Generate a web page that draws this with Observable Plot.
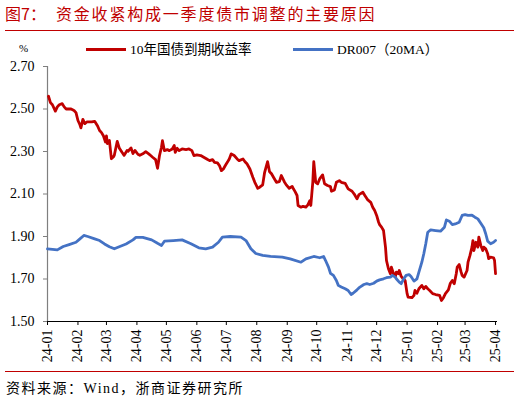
<!DOCTYPE html>
<html><head><meta charset="utf-8">
<script src="https://cdn.jsdelivr.net/npm/d3@7"></script>
<script src="https://cdn.jsdelivr.net/npm/@observablehq/plot@0.6"></script>
<style>
body{margin:0;background:#fff;}
#wrap{position:relative;width:520px;height:402px;overflow:hidden;font-family:"Liberation Serif","Noto Sans CJK SC",serif;color:#000;}
.abs{position:absolute;white-space:nowrap;}
</style></head><body><div id="wrap"></div>
<script>
const title = "资金收紧构成一季度债市调整的主要原因";
const figLabel = "图7：";
const seriesNames = ["10年国债到期收益率", "DR007（20MA）"];
const unitLabel = "%";
const sourceText = "资料来源：Wind，浙商证券研究所";
const yTicks = [1.5, 1.7, 1.9, 2.1, 2.3, 2.5, 2.7];
const xTickLabels = ["24-01","24-02","24-03","24-04","24-05","24-06","24-07","24-08","24-09","24-10","24-11","24-12","25-01","25-02","25-03","25-04"];

const redDates = ["2024-01-02","2024-01-04","2024-01-06","2024-01-09","2024-01-11","2024-01-13","2024-01-16","2024-01-18","2024-01-20","2024-01-22","2024-01-25","2024-01-28","2024-01-30","2024-02-01","2024-02-03","2024-02-04","2024-02-06","2024-02-08","2024-02-10","2024-02-15","2024-02-18","2024-02-21","2024-02-23","2024-02-25","2024-02-27","2024-02-29","2024-03-01","2024-03-02","2024-03-04","2024-03-06","2024-03-08","2024-03-09","2024-03-12","2024-03-14","2024-03-17","2024-03-19","2024-03-22","2024-03-23","2024-03-26","2024-03-28","2024-03-30","2024-04-02","2024-04-04","2024-04-07","2024-04-10","2024-04-13","2024-04-15","2024-04-17","2024-04-20","2024-04-22","2024-04-24","2024-04-26","2024-04-27","2024-04-29","2024-05-02","2024-05-04","2024-05-07","2024-05-09","2024-05-10","2024-05-12","2024-05-14","2024-05-17","2024-05-21","2024-05-24","2024-05-27","2024-05-29","2024-06-01","2024-06-05","2024-06-08","2024-06-12","2024-06-14","2024-06-17","2024-06-19","2024-06-22","2024-06-24","2024-06-26","2024-06-28","2024-06-30","2024-07-02","2024-07-04","2024-07-06","2024-07-09","2024-07-12","2024-07-14","2024-07-18","2024-07-20","2024-07-22","2024-07-25","2024-07-28","2024-07-30","2024-08-02","2024-08-04","2024-08-07","2024-08-09","2024-08-12","2024-08-14","2024-08-16","2024-08-18","2024-08-21","2024-08-24","2024-08-26","2024-08-29","2024-08-31","2024-09-03","2024-09-06","2024-09-07","2024-09-09","2024-09-11","2024-09-12","2024-09-15","2024-09-17","2024-09-20","2024-09-22","2024-09-24","2024-09-25","2024-09-27","2024-09-28","2024-09-30","2024-10-02","2024-10-04","2024-10-07","2024-10-09","2024-10-12","2024-10-15","2024-10-16","2024-10-19","2024-10-21","2024-10-24","2024-10-26","2024-10-30","2024-11-02","2024-11-06","2024-11-08","2024-11-11","2024-11-13","2024-11-17","2024-11-19","2024-11-22","2024-11-25","2024-11-27","2024-11-29","2024-12-01","2024-12-03","2024-12-04","2024-12-06","2024-12-08","2024-12-10","2024-12-11","2024-12-13","2024-12-15","2024-12-16","2024-12-18","2024-12-20","2024-12-21","2024-12-23","2024-12-24","2024-12-26","2024-12-28","2024-12-30","2025-01-01","2025-01-02","2025-01-06","2025-01-08","2025-01-09","2025-01-11","2025-01-13","2025-01-16","2025-01-18","2025-01-20","2025-01-22","2025-01-24","2025-01-27","2025-01-30","2025-02-03","2025-02-05","2025-02-07","2025-02-09","2025-02-12","2025-02-14","2025-02-16","2025-02-18","2025-02-20","2025-02-21","2025-02-23","2025-02-25","2025-02-26","2025-02-28","2025-03-03","2025-03-04","2025-03-06","2025-03-08","2025-03-09","2025-03-10","2025-03-12","2025-03-14","2025-03-15","2025-03-17","2025-03-19","2025-03-20","2025-03-22","2025-03-24","2025-03-25","2025-03-27","2025-03-30","2025-03-31","2025-04-01"];
const redValues = [2.56,2.53,2.52,2.49,2.51,2.52,2.525,2.51,2.50,2.50,2.50,2.493,2.483,2.446,2.426,2.411,2.451,2.431,2.439,2.439,2.442,2.420,2.399,2.389,2.373,2.345,2.373,2.337,2.352,2.266,2.274,2.282,2.348,2.317,2.295,2.282,2.305,2.301,2.317,2.290,2.305,2.287,2.282,2.289,2.299,2.289,2.281,2.273,2.262,2.221,2.281,2.320,2.351,2.304,2.309,2.304,2.312,2.328,2.296,2.315,2.304,2.312,2.309,2.312,2.304,2.281,2.284,2.281,2.273,2.262,2.257,2.262,2.249,2.246,2.234,2.210,2.218,2.234,2.249,2.265,2.289,2.281,2.265,2.257,2.265,2.252,2.242,2.218,2.179,2.155,2.127,2.132,2.143,2.202,2.252,2.205,2.195,2.179,2.155,2.158,2.187,2.158,2.143,2.127,2.136,2.127,2.111,2.093,2.046,2.038,2.042,2.038,2.049,2.069,2.046,2.155,2.252,2.155,2.148,2.171,2.190,2.148,2.140,2.135,2.113,2.119,2.155,2.163,2.155,2.150,2.124,2.113,2.101,2.077,2.097,2.108,2.093,2.072,2.061,2.038,2.022,1.999,1.967,1.956,1.944,1.928,1.850,1.787,1.748,1.725,1.756,1.727,1.709,1.732,1.725,1.740,1.712,1.701,1.693,1.631,1.615,1.612,1.623,1.646,1.633,1.654,1.670,1.654,1.665,1.654,1.646,1.631,1.627,1.623,1.599,1.612,1.631,1.649,1.680,1.693,1.678,1.725,1.756,1.768,1.732,1.717,1.709,1.740,1.779,1.811,1.850,1.881,1.834,1.873,1.850,1.897,1.858,1.834,1.850,1.842,1.819,1.796,1.803,1.800,1.787,1.725];

const blueDates = ["2024-01-01","2024-01-11","2024-01-17","2024-01-23","2024-01-30","2024-02-03","2024-02-07","2024-02-11","2024-02-18","2024-02-23","2024-02-28","2024-03-04","2024-03-09","2024-03-14","2024-03-21","2024-03-28","2024-03-31","2024-04-07","2024-04-16","2024-04-22","2024-04-26","2024-04-29","2024-05-08","2024-05-17","2024-05-26","2024-06-03","2024-06-10","2024-06-17","2024-06-23","2024-06-27","2024-07-05","2024-07-16","2024-07-21","2024-07-26","2024-07-31","2024-08-07","2024-08-15","2024-08-27","2024-09-04","2024-09-15","2024-09-20","2024-09-28","2024-10-04","2024-10-08","2024-10-10","2024-10-13","2024-10-15","2024-10-18","2024-10-21","2024-10-23","2024-10-26","2024-10-30","2024-11-02","2024-11-05","2024-11-07","2024-11-11","2024-11-14","2024-11-18","2024-11-21","2024-11-24","2024-11-28","2024-12-01","2024-12-04","2024-12-08","2024-12-11","2024-12-15","2024-12-17","2024-12-20","2024-12-21","2024-12-24","2024-12-26","2024-12-28","2024-12-31","2025-01-03","2025-01-05","2025-01-08","2025-01-11","2025-01-13","2025-01-16","2025-01-18","2025-01-20","2025-01-22","2025-01-25","2025-01-30","2025-02-04","2025-02-08","2025-02-10","2025-02-13","2025-02-16","2025-02-19","2025-02-23","2025-02-26","2025-03-01","2025-03-04","2025-03-08","2025-03-11","2025-03-14","2025-03-17","2025-03-20","2025-03-22","2025-03-24","2025-03-27","2025-03-30","2025-04-01"];
const blueValues = [1.842,1.837,1.853,1.862,1.873,1.889,1.905,1.900,1.889,1.881,1.865,1.852,1.842,1.852,1.865,1.884,1.896,1.896,1.884,1.868,1.858,1.878,1.881,1.884,1.866,1.847,1.842,1.850,1.873,1.897,1.900,1.897,1.881,1.842,1.820,1.811,1.806,1.803,1.795,1.779,1.795,1.806,1.800,1.806,1.787,1.756,1.727,1.717,1.693,1.670,1.662,1.654,1.646,1.627,1.633,1.649,1.662,1.674,1.678,1.674,1.680,1.690,1.696,1.701,1.706,1.709,1.717,1.709,1.701,1.685,1.678,1.696,1.717,1.721,1.712,1.690,1.701,1.732,1.779,1.819,1.866,1.920,1.931,1.928,1.925,1.944,1.978,1.972,1.956,1.959,1.967,1.999,2.003,1.999,2.000,1.991,1.983,1.962,1.941,1.913,1.878,1.866,1.873,1.881];

const RED = "#C00000", BLUE = "#4472C4";
const red = redDates.map((d, i) => ({date: new Date(d + "T00:00:00Z"), value: redValues[i]}));
const blue = blueDates.map((d, i) => ({date: new Date(d + "T00:00:00Z"), value: blueValues[i]}));
const xTicks = xTickLabels.map(s => new Date("20" + s + "-01T00:00:00Z"));
const x0 = new Date("2024-01-01T00:00:00Z"), x1 = new Date("2025-04-03T00:00:00Z");

const chart = Plot.plot({
  width: 520, height: 402,
  marginLeft: 47, marginRight: 23, marginTop: 66, marginBottom: 81,
  style: {fontFamily: "Liberation Serif, serif", fontSize: "14px", color: "#000", background: "transparent"},
  x: {type: "utc", domain: [x0, x1]},
  y: {domain: [1.5, 2.7]},
  marks: [
    Plot.ruleX([x0], {stroke: "#7f7f7f", strokeWidth: 1.2}),
    Plot.axisY({ticks: yTicks, tickFormat: d => d.toFixed(2), tickSize: 4, tickPadding: 9, stroke: "#7f7f7f", fill: "#000", label: null, fontSize: 14}),
    Plot.axisX({ticks: xTicks, tickFormat: (d, i) => xTickLabels[i], tickSize: 4, tickPadding: 4, tickRotate: -90, stroke: "#000", fill: "#000", label: null, fontSize: 14}),
    Plot.ruleY([1.5], {stroke: "#000", strokeWidth: 1}),
    Plot.line(red, {x: "date", y: "value", stroke: RED, strokeWidth: 2.8}),
    Plot.line(blue, {x: "date", y: "value", stroke: BLUE, strokeWidth: 2.8})
  ]
});
const wrap = document.getElementById("wrap");
chart.style.position = "absolute"; chart.style.left = "0"; chart.style.top = "0";
wrap.appendChild(chart);

function add(html, css) {
  const d = document.createElement("div");
  d.className = "abs";
  d.innerHTML = html;
  Object.assign(d.style, css);
  wrap.appendChild(d);
  return d;
}
add(figLabel, {left: "5px", top: "3px", fontSize: "16px", color: RED, fontFamily: "'Noto Sans CJK SC', sans-serif", lineHeight: "20px"});
add(title, {left: "56px", top: "3px", fontSize: "16px", letterSpacing: "1.8px", color: RED, fontFamily: "'Noto Sans CJK SC', sans-serif", lineHeight: "20px"});
add("", {left: "5px", top: "30px", width: "509px", height: "1px", background: RED});
add(unitLabel, {left: "19px", top: "41px", fontSize: "11px", lineHeight: "14px"});
add("", {left: "86px", top: "48px", width: "40px", height: "3px", background: RED});
add(seriesNames[0], {left: "130px", top: "41px", fontSize: "13.5px", lineHeight: "17px"});
add("", {left: "293px", top: "48px", width: "40px", height: "3px", background: BLUE});
add(seriesNames[1], {left: "337px", top: "41px", fontSize: "13.5px", lineHeight: "17px"});
add("", {left: "5px", top: "371px", width: "509px", height: "1px", background: RED});
add(sourceText, {left: "6px", top: "380px", fontSize: "14px", letterSpacing: "1.5px", lineHeight: "18px"});
</script></body></html>
